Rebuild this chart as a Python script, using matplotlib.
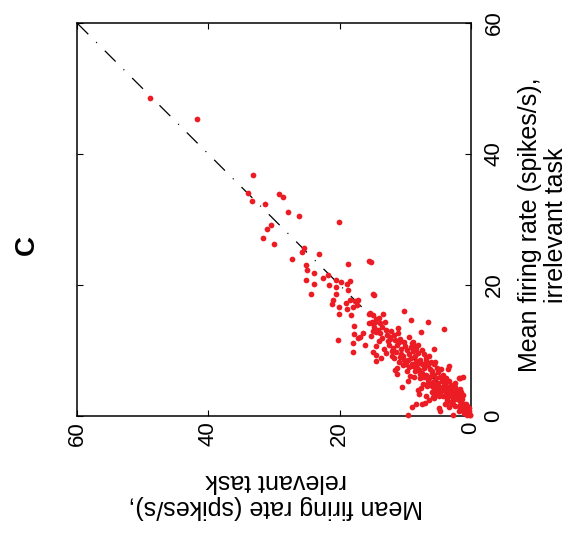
import matplotlib
matplotlib.use("Agg")
import matplotlib.pyplot as plt
import numpy as np

plt.rcParams["font.family"] = ["Liberation Sans", "DejaVu Sans"]
plt.rcParams["lines.scale_dashes"] = False

# (relevant task, irrelevant task) mean firing rates, spikes/s
sparse_rel = [48.9, 41.7, 33.2, 33.9, 33.4, 31.4, 29.3, 28.7, 27.8, 26.2, 20.1, 30.5, 31.0,
              31.7, 30.0, 25.5, 25.8, 23.2, 27.3, 18.8, 15.6, 15.3, 25.1, 24.9, 23.9, 21.8,
              22.5, 25.1, 20.5, 19.8, 18.9, 18.5, 23.9, 21.6, 20.6, 18.8, 20.5, 24.3, 21.0,
              21.1, 20.1, 19.0, 18.4, 18.0, 17.4, 17.2, 20.1, 18.9, 17.7, 18.2, 14.9, 14.8,
              15.5, 15.6, 15.1, 14.6, 14.0, 15.0, 14.4, 17.8, 17.8, 16.9, 17.2, 16.4, 20.3,
              18.0, 16.1, 17.9, 14.9, 14.5, 14.4, 10.2, 9.1, 6.5, 7.6, 4.1, 11.1, 9.5, 8.8,
              8.9, 5.7, 10.5, 8.1, 9.0, 8.4, 7.5, 7.0, 6.4, 5.7, 4.8, 4.7, 9.6, 2.7, 1.6,
              3.4, 3.5, 1.2, 1.9, 11.2, 15.4, 14.9, 13.4, 14.4, 13.9, 13.1, 13.6, 15.1, 12.8,
              12.3]
sparse_irr = [48.6, 45.3, 36.8, 34.1, 32.9, 32.3, 33.9, 33.5, 31.1, 30.5, 29.6, 29.2, 28.6,
              27.2, 26.3, 25.6, 25.1, 24.7, 23.9, 23.2, 23.6, 23.5, 23.1, 22.3, 21.9, 21.5,
              21.0, 20.8, 20.7, 20.4, 20.1, 20.6, 20.1, 20.0, 19.7, 19.2, 18.7, 18.6, 17.7,
              17.1, 16.6, 17.2, 17.7, 16.7, 16.9, 17.7, 15.6, 16.4, 17.5, 15.4, 18.7, 18.5,
              15.6, 14.2, 14.2, 14.4, 14.9, 13.0, 12.9, 13.7, 12.5, 12.1, 11.9, 12.7, 11.6,
              11.1, 10.9, 9.7, 9.7, 9.3, 8.4, 16.1, 14.6, 14.4, 12.8, 13.3, 13.5, 12.0, 11.3,
              10.8, 10.2, 4.5, 3.9, 1.4, 1.9, 1.8, 2.0, 2.4, 2.7, 1.2, 0.8, 0.2, 0.1, 5.8,
              7.6, 7.1, 6.0, 5.8, 7.3, 15.7, 15.4, 15.5, 14.8, 14.2, 14.4, 13.6, 14.4, 12.4,
              12.1]

dense_rel = [14.7, 14.2, 13.8, 13.5, 13.0, 12.7, 12.5, 13.3, 14.0, 12.2, 12.9, 14.5, 13.7, 12.4, 15.3,
             11.8, 11.5, 11.2, 11.9, 10.8, 10.6, 11.4, 10.3, 11.7, 10.9, 10.1, 11.1, 10.4, 11.6, 10.7,
             12.0, 10.2, 11.3,
             9.8, 9.5, 9.2, 9.9, 8.9, 8.6, 9.4, 8.3, 9.7, 8.8, 8.1, 9.1, 8.5, 9.3, 8.0, 9.6, 8.7, 8.2,
             9.0, 8.4,
             7.8, 7.5, 7.2, 7.9, 6.9, 6.6, 7.4, 6.3, 7.7, 6.8, 6.1, 7.1, 6.5, 7.3, 6.0, 7.6, 6.7, 6.2,
             7.0, 6.4, 7.9, 6.9, 7.4,
             5.9, 5.6, 5.3, 5.8, 5.0, 4.7, 5.5, 4.4, 5.7, 4.9, 4.2, 5.2, 4.6, 5.4, 4.1, 5.8, 4.8, 4.3,
             5.1, 4.5, 5.9, 4.0, 5.5,
             3.9, 3.7, 3.4, 3.8, 3.1, 2.9, 3.5, 2.6, 3.7, 3.0, 2.4, 3.3, 2.8, 3.6, 2.3, 3.9, 2.7, 2.2,
             3.2, 2.5, 3.8, 2.1, 3.4,
             1.9, 1.7, 1.5, 1.8, 1.3, 1.1, 1.6, 0.9, 1.4, 1.0, 0.7, 1.2, 0.8, 0.5, 0.4, 0.6, 0.3, 0.2,
             1.9, 0.1, 1.5, 0.6, 1.1, 0.3, 1.7,
             9.6, 9.0, 8.4, 7.8, 7.2, 6.6, 6.0, 5.4, 4.8, 4.2, 3.6, 3.0, 2.4, 10.8, 10.2, 12.1, 11.0,
             8.0, 6.8, 5.6, 4.4, 3.2, 2.0]
dense_irr = [13.6, 13.1, 12.6, 11.9, 13.2, 11.4, 10.8, 10.3, 11.5, 13.0, 9.6, 10.7, 8.9, 11.7, 12.2,
             12.3, 11.6, 10.9, 10.4, 11.8, 10.2, 9.7, 9.1, 8.8, 8.3, 10.7, 12.6, 7.8, 7.0, 9.5,
             9.2, 11.3, 6.4,
             10.1, 9.4, 8.8, 8.0, 9.9, 9.1, 7.5, 8.4, 6.8, 7.7, 9.6, 10.6, 6.9, 6.1, 7.2, 5.4, 5.9, 8.0,
             11.1, 10.3,
             8.6, 8.0, 7.4, 7.0, 8.9, 7.8, 6.5, 7.1, 5.8, 6.2, 8.3, 9.4, 5.5, 4.9, 6.6, 4.3, 4.6, 5.9,
             7.7, 9.2, 3.4, 3.0, 10.1,
             6.9, 6.3, 5.8, 5.2, 6.7, 6.0, 4.7, 5.4, 4.1, 4.4, 6.2, 7.4, 3.8, 3.3, 4.8, 2.9, 3.1, 4.1,
             5.1, 7.1, 3.7, 5.7, 8.3,
             4.9, 4.4, 4.0, 3.6, 4.7, 4.1, 3.2, 3.7, 2.8, 3.0, 4.4, 5.4, 2.5, 2.1, 3.1, 1.9, 1.8, 2.6,
             3.5, 5.0, 5.8, 3.9, 1.4,
             2.7, 2.3, 2.0, 1.6, 2.6, 1.8, 1.2, 1.4, 0.9, 1.0, 1.9, 3.2, 0.6, 0.9, 0.4, 0.2, 0.7, 0.2,
             0.7, 0.1, 3.6, 1.5, 0.4, 1.2, 4.1,
             8.5, 7.9, 7.3, 6.4, 5.9, 5.1, 4.6, 4.0, 3.6, 3.0, 2.5, 2.2, 1.6, 9.0, 8.6, 10.0, 11.3,
             10.9, 8.4, 7.9, 5.9, 4.6, 3.2]

ticks = [0, 20, 40, 60]
tick_labels = ["0", "20", "40", "60"]
line_ends = [0, 60]

W, H = 585, 533
fig = plt.figure(figsize=(W / 100, H / 100), dpi=100)
ax = fig.add_axes([77 / W, (H - 416) / H, 394 / W, 393 / H])

red = "#ec1c24"
ax.plot(line_ends, line_ends, color="black", lw=0.9, dashes=(11, 8, 0.8, 8), zorder=2)
ax.scatter(sparse_rel + dense_rel, sparse_irr + dense_irr, s=17, color=red,
           linewidths=0, zorder=3, clip_on=False)

# rotated layout: relevant task runs right-to-left along the bottom,
# irrelevant task bottom-to-top on the right
ax.set_xlim(60, 0)
ax.set_ylim(0, 60)
ax.set_xticks(ticks)
ax.set_yticks(ticks)
ax.set_xticklabels(tick_labels, rotation=90, fontsize=16)
ax.set_yticklabels(tick_labels, rotation=90, fontsize=16, va="center")
ax.yaxis.tick_right()
ax.tick_params(direction="in", length=4, width=0.8, top=True, left=True,
               bottom=True, right=True)
ax.tick_params(axis="x", pad=4)
ax.tick_params(axis="y", pad=9)
for sp in ax.spines.values():
    sp.set_linewidth(1.1)

fig.text(276 / W, 1 - 494 / H, "Mean firing rate (spikes/s),\nrelevant task",
         rotation=180, ha="center", va="center", fontsize=18, linespacing=1.15)
fig.text(543 / W, 1 - 225 / H, "Mean firing rate (spikes/s),\nirrelevant task",
         rotation=90, ha="center", va="center", fontsize=18, linespacing=1.15)
fig.text(27 / W, 1 - 245 / H, "C", rotation=90, ha="center", va="center",
         fontsize=20, fontweight="bold")

fig.savefig("out.png", dpi=100)
